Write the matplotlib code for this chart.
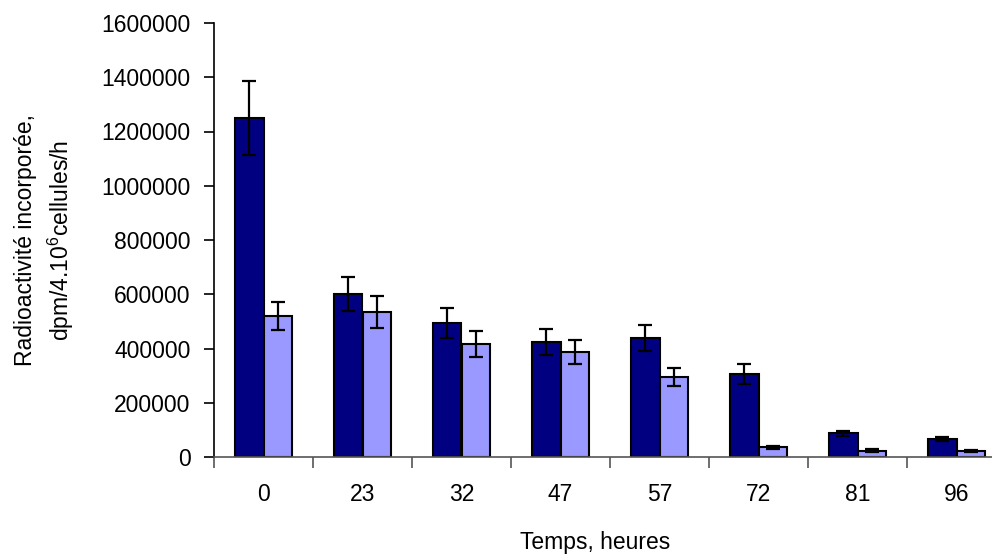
import matplotlib
matplotlib.use("Agg")
import matplotlib.pyplot as plt
import numpy as np

plt.rcParams['font.family'] = ['Liberation Sans', 'DejaVu Sans']
plt.rcParams['mathtext.fontset'] = 'custom'
plt.rcParams['mathtext.rm'] = 'Liberation Sans'
plt.rcParams['mathtext.it'] = 'Liberation Sans'

categories = ["0", "23", "32", "47", "57", "72", "81", "96"]
dark_values = [1250000, 601000, 493000, 425000, 440000, 306000, 88000, 66000]
dark_errors = [135000, 62000, 56000, 48000, 48000, 37000, 9000, 6000]
light_values = [521000, 535000, 416000, 388000, 294000, 36000, 23000, 21000]
light_errors = [52000, 58000, 48000, 44000, 33000, 5000, 5000, 4000]
yticks = [0, 200000, 400000, 600000, 800000, 1000000, 1200000, 1400000, 1600000]

W, H = 992, 556
fs = 16.5
fig = plt.figure(figsize=(W / 100, H / 100), dpi=100)
left, right, top, bottom = 214, 1006, 23, 457
ax = fig.add_axes([left / W, (H - bottom) / H, (right - left) / W, (bottom - top) / H])

x = np.arange(len(categories))
bw = 0.29
ekw = dict(ecolor='black', elinewidth=1.6, capsize=5, capthick=1.6)
ax.bar(x - bw / 2, dark_values, bw, color='#000080', edgecolor='black', linewidth=1.5,
       yerr=dark_errors, error_kw=ekw, zorder=2)
ax.bar(x + bw / 2, light_values, bw, color='#9999FF', edgecolor='black', linewidth=1.5,
       yerr=light_errors, error_kw=ekw, zorder=2)

ax.set_xlim(-0.5, len(categories) - 0.5)
ax.set_ylim(0, 1600000)
ax.set_yticks(yticks)
ax.set_yticklabels([str(v) for v in yticks], fontsize=fs)
ax.set_xticks(x)
ax.set_xticklabels(categories, fontsize=fs)
ax.tick_params(axis='x', length=0, pad=19)
ax.set_xticks(np.arange(len(categories) + 1) - 0.5, minor=True)
ax.tick_params(axis='x', which='minor', length=8, width=1.2, color='#555555', direction='out')
ax.tick_params(axis='y', length=7, width=1.2, direction='out', pad=10)

for s in ['top', 'right']:
    ax.spines[s].set_visible(False)
ax.spines['left'].set_linewidth(1.2)
ax.spines['bottom'].set_linewidth(1.2)
ax.spines['bottom'].set_color('#555555')

fig.text(595 / W, 1 - 543 / H, "Temps, heures", ha='center', va='center', fontsize=fs)
fig.text(45 / W, 1 - 240 / H, "Radioactivité incorporée,\ndpm/4.10$^{6}$cellules/h",
         ha='center', va='center', rotation=90, fontsize=fs, multialignment='center',
         linespacing=1.4)

fig.savefig("out.png", dpi=100)
